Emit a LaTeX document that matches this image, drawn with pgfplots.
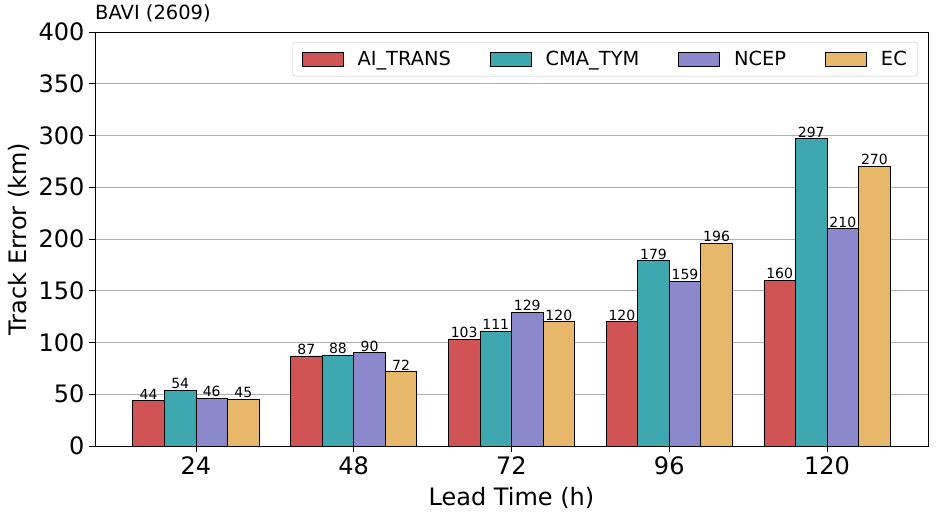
\documentclass[border=0pt]{standalone}
\usepackage{fontspec}
\setmainfont{DejaVu Sans}
\usepackage{pgfplots}
\pgfplotsset{compat=1.18}
\definecolor{cA}{HTML}{D05454}
\definecolor{cB}{HTML}{3FA7B0}
\definecolor{cC}{HTML}{8B88CC}
\definecolor{cD}{HTML}{E8B86A}
\definecolor{gridc}{HTML}{B0B0B0}
\begin{document}
\begin{tikzpicture}
\begin{axis}[
  scale only axis,
  width=833pt, height=414pt,
  xmin=-0.64, xmax=4.64,
  ymin=0, ymax=400,
  ytick={0,50,...,400},
  xtick={0,1,2,3,4},
  xticklabels={24,48,72,96,120},
  ymajorgrids,
  grid style={gridc, line width=0.8pt},
  axis line style={black, line width=0.9pt},
  tick style={black, line width=0.9pt},
  tick align=outside,
  major tick length=6pt,
  xtick pos=bottom, ytick pos=left,
  /pgf/number format/assume math mode=true,
  tick label style={font=\fontsize{24}{28}\selectfont},
  yticklabel style={xshift=-1pt},
  xticklabel style={yshift=-1pt},
  xlabel={Lead Time (h)},
  ylabel={Track Error (km)},
  label style={font=\fontsize{24}{28}\selectfont},
  xlabel style={yshift=-6pt},
  ylabel style={yshift=2pt},
  title={BAVI (2609)},
  title style={at={(0,1)}, anchor=south west, inner sep=0pt, yshift=4pt, font=\fontsize{19.5}{22}\selectfont},
  ybar, bar width=0.2,
  nodes near coords,
  every node near coord/.append style={font=\fontsize{14}{16}\selectfont, black, inner sep=1pt},
  legend columns=4,
  legend style={at={(1,1)}, xshift=-10pt, yshift=-10pt, anchor=north east,
    draw=gridc!70, rounded corners=3pt, font=\fontsize{19.4}{22}\selectfont,
    inner xsep=9pt, inner ysep=7pt,
    /tikz/every even column/.append style={column sep=37pt},
    /tikz/every odd column/.append style={column sep=12pt}},
  legend image code/.code={\draw[#1, sharp corners, draw=black, line width=0.8pt] (0pt,-7pt) rectangle (41pt,7pt);},
]
\addplot[fill=cA, draw=black, line width=0.8pt, bar shift=-0.3] coordinates {(0,44) (1,87) (2,103) (3,120) (4,160)};
\addplot[fill=cB, draw=black, line width=0.8pt, bar shift=-0.1] coordinates {(0,54) (1,88) (2,111) (3,179) (4,297)};
\addplot[fill=cC, draw=black, line width=0.8pt, bar shift=0.1] coordinates {(0,46) (1,90) (2,129) (3,159) (4,210)};
\addplot[fill=cD, draw=black, line width=0.8pt, bar shift=0.3] coordinates {(0,45) (1,72) (2,120) (3,196) (4,270)};
\legend{AI\_TRANS, CMA\_TYM, NCEP, EC}
\end{axis}
\pgfresetboundingbox
\path ([shift={(-95pt,-73pt)}]current axis.south west) rectangle ([shift={(10pt,32pt)}]current axis.north east);
\end{tikzpicture}
\end{document}
